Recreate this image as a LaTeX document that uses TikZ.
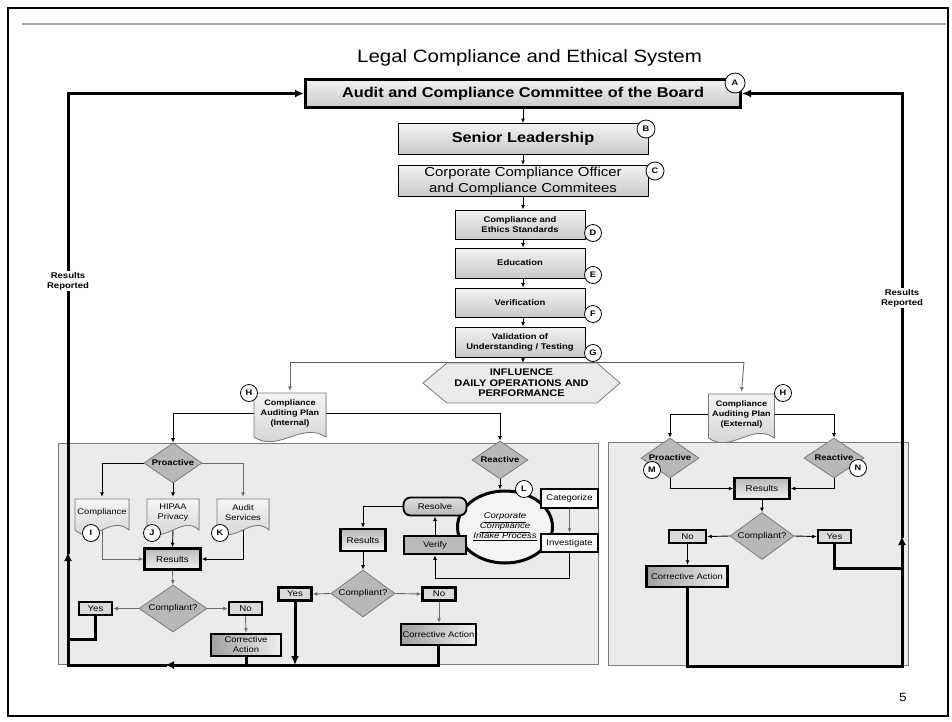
\documentclass[tikz,border=0pt]{standalone}
\usepackage{fontspec}
\setmainfont{Liberation Sans}[FakeStretch=1.15]
\usetikzlibrary{shapes.geometric,arrows.meta,calc}
\pgfdeclarelayer{back}
\pgfdeclarelayer{mid}
\pgfsetlayers{back,mid,main}
\definecolor{panelgray}{HTML}{EBEBEB}
\definecolor{diagray}{HTML}{B8B8B8}
\definecolor{edgegray}{HTML}{7A7A7A}
\newcommand\docnode[7]{%
  \filldraw[docsty] ({#2-#4/2},#3) -- ({#2+#4/2},#3) -- ({#2+#4/2},{#3+#5})
    .. controls ({#2+#4/6},{#3+#5-16}) and ({#2-#4/6},{#3+#5+16}) .. ({#2-#4/2},{#3+#5}) -- cycle;
  \node[doctext, minimum width=#4pt, minimum height=#5pt, #6] (#1) at (#2,{#3+#5/2-2}) {#7};}
\tikzset{
  x=1pt, y=-1pt,
  arr/.style={draw=black, line width=0.9pt, -{Latex[length=4.5pt,width=4pt]}},
  garr/.style={draw=gray!85!black, line width=0.9pt, -{Latex[length=4.5pt,width=4pt]}},
  thk/.style={draw=black, line width=3pt, line cap=rect},
  bigtip/.style={-{Latex[length=9pt,width=8pt]}},
  topbox/.style={draw=black, line width=1pt, top color=gray!10, bottom color=gray!42, inner sep=0pt, align=center},
  smallbox/.style={topbox, minimum width=130pt, font=\fontsize{8.2}{10}\selectfont\bfseries},
  lbl/.style={circle, draw=black, line width=0.8pt, fill=white, inner sep=0pt, minimum size=17pt, font=\fontsize{8}{9}\selectfont\bfseries},
  dia/.style={diamond, draw=edgegray, line width=0.8pt, fill=diagray, inner sep=0pt, aspect=1.45, font=\fontsize{8.4}{10}\selectfont},
  yn/.style={draw=black, line width=2.5pt, fill=gray!28, minimum width=33pt, minimum height=13pt, inner sep=0pt, font=\fontsize{8.4}{10}\selectfont},
  res/.style={draw=black, line width=2.5pt, top color=gray!55, bottom color=gray!12, inner sep=0pt, font=\fontsize{8.5}{10}\selectfont},
  corr/.style={draw=black, line width=2.5pt, left color=gray!75, right color=gray!12, inner sep=0pt, align=center, font=\fontsize{8.2}{10}\selectfont},
  whitebox/.style={draw=black, line width=2.5pt, fill=white!96!gray, inner sep=0pt, font=\fontsize{8.3}{10}\selectfont},
  docsty/.style={draw=edgegray, line width=0.8pt, top color=gray!8, bottom color=gray!38},
  doctext/.style={inner sep=0pt, align=center, font=\fontsize{8.1}{9.5}\selectfont},
  rrep/.style={fill=white, inner sep=1pt, align=center, font=\fontsize{8.3}{10}\selectfont\bfseries},
}
\begin{document}
\begin{tikzpicture}
\useasboundingbox (0,0) rectangle (952,721);
\begin{pgfonlayer}{back}
  \fill[white] (0,0) rectangle (952,721);
  \draw[black, line width=2pt] (8,8) rectangle (948,716);
  \draw[gray!70, line width=2pt] (22,24) -- (946,24);
  \filldraw[fill=panelgray, draw=edgegray, line width=0.8pt] (58,443) rectangle (598,664);
  \filldraw[fill=panelgray, draw=edgegray, line width=0.8pt] (608,442) rectangle (908,665);
\end{pgfonlayer}

% title
\node[font=\fontsize{17.8}{20}\selectfont, anchor=base] (title) at (529.5,62.5) {Legal Compliance and Ethical System};

% top chain
\node[topbox, line width=3pt, minimum width=435pt, minimum height=28pt, font=\fontsize{14.2}{16}\selectfont\bfseries] (A) at (523,93.5) {Audit and Compliance Committee of the Board};
\node[topbox, minimum width=250pt, minimum height=31pt, font=\fontsize{14.2}{16}\selectfont\bfseries] (B) at (523,139) {Senior Leadership};
\node[topbox, minimum width=250pt, minimum height=31pt, font=\fontsize{13}{15.5}\selectfont] (C) at (523,181) {Corporate Compliance Officer\\and Compliance Commitees};
\node[smallbox, minimum height=29pt] (D) at (520,224.5) {Compliance and\\Ethics Standards};
\node[smallbox, minimum height=30pt] (E) at (520,263) {Education};
\node[smallbox, minimum height=29pt] (F) at (520,302.5) {Verification};
\node[smallbox, minimum height=30pt] (G) at (520,342) {Validation of\\Understanding / Testing};
\node[lbl, minimum size=20pt] (cA) at (735,83) {A};
\node[lbl, minimum size=18pt] (cB) at (646,129) {B};
\node[lbl, minimum size=18pt] (cC) at (655,171) {C};
\node[lbl] (cD) at (593,233) {D};
\node[lbl] (cE) at (593,275) {E};
\node[lbl] (cF) at (593,314) {F};
\node[lbl] (cG) at (593,353) {G};

% influence hexagon
\filldraw[fill=gray!16, draw=edgegray, line width=0.8pt] (423,383) -- (447,363) -- (597,363) -- (620,383) -- (597,403) -- (447,403) -- cycle;
\node[inner sep=0pt, minimum height=40pt, minimum width=197pt, align=center, font=\fontsize{9.6}{10.5}\selectfont\bfseries] (infl) at (521.5,383) {INFLUENCE\\DAILY OPERATIONS AND\\PERFORMANCE};
\coordinate (splitL) at (290,362);
\coordinate (splitR) at (744,362);

% auditing plans
\docnode{HI}{290}{393}{72}{44}{font=\fontsize{7.9}{10}\selectfont\bfseries}{Compliance\\Auditing Plan\\(Internal)}
\docnode{HE}{741.5}{394}{66}{44}{font=\fontsize{7.9}{10}\selectfont\bfseries}{Compliance\\Auditing Plan\\(External)}
\node[lbl] (cHI) at (249,393) {H};
\node[lbl] (cHE) at (783,393) {H};

% internal proactive
\node[dia, minimum width=58pt, minimum height=40pt, font=\fontsize{8.2}{10}\selectfont\bfseries] (ProI) at (173,463) {Proactive};
\docnode{DocI}{102}{499}{54}{31}{}{Compliance}
\docnode{DocJ}{173}{499}{52}{31}{}{HIPAA\\Privacy}
\docnode{DocK}{243}{499}{52}{31}{}{Audit\\Services}
\node[lbl] (cI) at (91,533) {I};
\node[lbl] (cJ) at (152,533) {J};
\node[lbl] (cK) at (220,533) {K};
\node[res, minimum width=56pt, minimum height=21pt] (ResI) at (172.5,559) {Results};
\node[dia, minimum width=68pt, minimum height=47pt] (CompI) at (173,608.5) {Compliant?};
\node[yn] (YesI) at (95.5,608.5) {Yes};
\node[yn] (NoI) at (245.5,608.5) {No};
\node[corr, minimum width=70pt, minimum height=22pt] (CorrI) at (246,645) {Corrective\\Action};

% internal reactive
\node[dia, minimum width=56pt, minimum height=38pt, font=\fontsize{8.2}{10}\selectfont\bfseries] (ReactI) at (500,460) {Reactive};
\node[ellipse, draw=black, line width=3pt, fill=white!92!gray, minimum width=95pt, minimum height=72pt, inner sep=0pt, align=center, font=\fontsize{8.3}{10}\selectfont\itshape] (intake) at (505,527) {\underline{Corporate}\\\underline{Compliance}\\\underline{Intake Process}};
\node[lbl] (cL) at (524,489) {L};
\node[whitebox, minimum width=57pt, minimum height=19pt] (Cat) at (569.5,498.5) {Categorize};
\node[whitebox, minimum width=57pt, minimum height=18pt] (Inv) at (569.5,543) {Investigate};
\node[draw=black, line width=2.5pt, fill=gray!55, minimum width=62pt, minimum height=18pt, inner sep=0pt, font=\fontsize{8.3}{10}\selectfont] (Ver) at (435,545) {Verify};
\node[draw=black, line width=1.8pt, rounded corners=7pt, top color=gray!25, bottom color=gray!55, minimum width=63pt, minimum height=18pt, inner sep=0pt, font=\fontsize{8.3}{10}\selectfont] (Resl) at (435,506.5) {Resolve};
\node[res, minimum width=45pt, minimum height=22pt] (ResR) at (363,540) {Results};
\node[dia, minimum width=64pt, minimum height=47pt] (CompR) at (363,593.5) {Compliant?};
\node[yn] (YesR) at (295,594) {Yes};
\node[yn] (NoR) at (439,594) {No};
\node[corr, minimum width=75pt, minimum height=21pt] (CorrR) at (438.5,634.5) {Corrective Action};

% external
\node[dia, minimum width=58pt, minimum height=40pt, font=\fontsize{8.2}{10}\selectfont\bfseries] (ProE) at (670,458) {Proactive};
\node[dia, minimum width=60pt, minimum height=40pt, font=\fontsize{8.2}{10}\selectfont\bfseries] (ReactE) at (834,458) {Reactive};
\node[lbl] (cM) at (652,470) {M};
\node[lbl] (cN) at (858,468) {N};
\node[res, minimum width=55pt, minimum height=21pt] (ResE) at (762,488.5) {Results};
\node[dia, minimum width=64pt, minimum height=47pt] (CompE) at (762,536) {Compliant?};
\node[yn, minimum width=37pt] (NoE) at (687.5,536.5) {No};
\node[yn] (YesE) at (834.5,536.5) {Yes};
\node[corr, minimum width=81pt, minimum height=21pt] (CorrE) at (687,576.5) {Corrective Action};

% results reported labels and page number
\node[rrep] (rrL) at (68,281) {Results\\Reported};
\node[rrep] (rrR) at (902,298) {Results\\Reported};
\node[font=\fontsize{12}{14}\selectfont] (pg) at (903,697) {5};

\coordinate (brL) at (68,665);
\coordinate (arrL) at (68,552);
\coordinate (arrB) at (165,665);
\coordinate (yl) at (68,639);
\coordinate (brR) at (902,666);
\coordinate (arrR) at (902,536);
\coordinate (yr) at (902,568);

\begin{pgfonlayer}{mid}
  % top chain
  \draw[arr] (A.south) -- (B.north);
  \draw[arr] (B.south) -- (C.north);
  \draw[arr] (C.south) -- (C.south |- D.north);
  \draw[arr] (C.south |- D.south) -- (C.south |- E.north);
  \draw[arr] (C.south |- E.south) -- (C.south |- F.north);
  \draw[arr] (C.south |- F.south) -- (C.south |- G.north);
  \draw[arr] (C.south |- G.south) -- (C.south |- infl.north);
  \draw[line width=0.8pt, gray!70!black] (splitL) -- (splitR);
  \draw[garr] (splitL) -- (HI.north);
  \draw[garr] (splitR) -- (HE.north);
  % internal proactive
  \draw[arr] (HI.west) -| (ProI.north);
  \draw[arr] (HI.east) -| (ReactI.north);
  \draw[arr] (ProI.west) -| (DocI.north);
  \draw[arr] (ProI.south) -- (DocJ.north);
  \draw[garr] (ProI.east) -| (DocK.north);
  \draw[garr] (DocI.south) |- (ResI.west);
  \draw[arr] (DocJ.south) -- (ResI.north);
  \draw[arr] (DocK.south) |- (ResI.east);
  \draw[garr] (ResI.south) -- (CompI.north);
  \draw[garr] (CompI.west) -- (YesI.east);
  \draw[garr] (CompI.east) -- (NoI.west);
  \draw[garr] (NoI.south) -- (CorrI.north);
  % internal reactive
  \draw[arr] (ReactI.south) -- (ReactI.south |- intake.north);
  \draw[garr] (Cat.south) -- (Inv.north);
  \draw[arr] (Inv.south) -- ++(0,25) -| (Ver.south);
  \draw[arr] (Ver.north) -- (Resl.south);
  \draw[arr] (Resl.west) -| (ResR.north);
  \draw[arr] (ResR.south) -- (CompR.north);
  \draw[garr] (CompR.west) -- (YesR.east);
  \draw[garr] (CompR.east) -- (NoR.west);
  \draw[garr] (NoR.south) -- (NoR.south |- CorrR.north);
  % external
  \draw[arr] (HE.west) -| (ProE.north);
  \draw[arr] (HE.east) -| (ReactE.north);
  \draw[arr] (ProE.south) |- (ResE.west);
  \draw[arr] (ReactE.south) |- (ResE.east);
  \draw[arr] (ResE.south) -- (CompE.north);
  \draw[arr] (CompE.west) -- (NoE.east);
  \draw[arr] (CompE.east) -- (YesE.west);
  \draw[arr] (NoE.south) -- (NoE.south |- CorrE.north);
  % results reported, left
  \draw[thk, bigtip] (CorrR.south) |- (arrB);
  \draw[thk] (arrB) -- (brL);
  \draw[thk, bigtip] (brL) -- (arrL);
  \draw[thk, bigtip] (arrL) -- (brL |- A.west) -- (A.west);
  \draw[thk] (CorrI.south) -- (CorrI.south |- brL);
  \draw[thk, bigtip] (YesR.south) -- (YesR.south |- brL);
  \draw[thk] (YesI.south) |- (yl);
  % results reported, right
  \draw[thk] (CorrE.south) |- (brR);
  \draw[thk, bigtip] (brR) -- (arrR);
  \draw[thk, bigtip] (arrR) -- (brR |- A.east) -- (A.east);
  \draw[thk] (YesE.south) |- (yr);
\end{pgfonlayer}
\end{tikzpicture}
\end{document}
